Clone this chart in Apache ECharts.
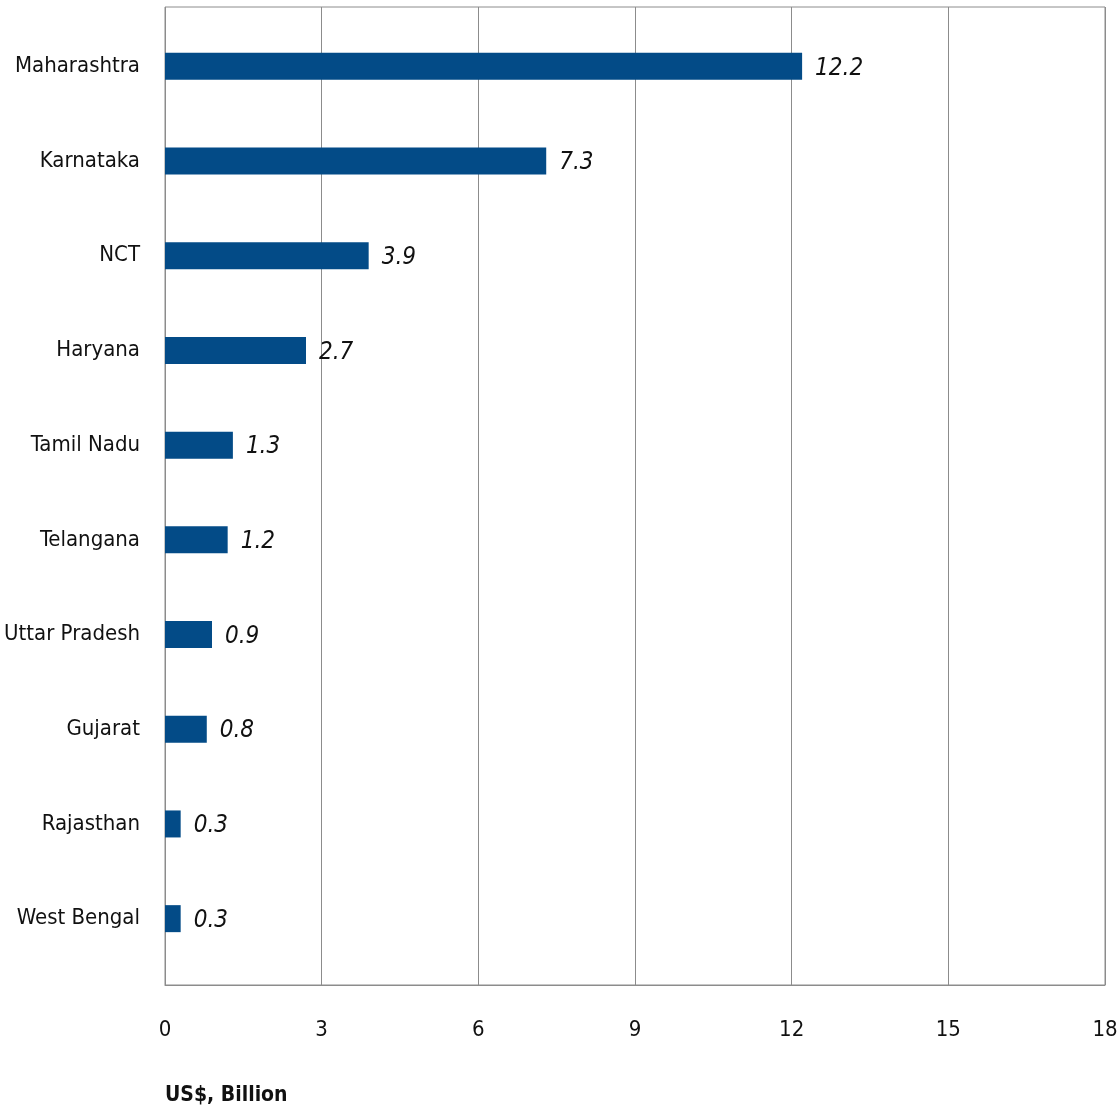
<!DOCTYPE html>
<html>
<head>
<meta charset="utf-8">
<script src="https://cdn.jsdelivr.net/npm/echarts@6/dist/echarts.min.js"></script>
<style>
  html, body { margin: 0; padding: 0; background: #fff; }
  #chart { width: 1119px; height: 1106px; }
</style>
</head>
<body>
<div id="chart"></div>
<script>
  // states and investment (US$ bn)
  const states = ['Maharashtra', 'Karnataka', 'NCT', 'Haryana', 'Tamil Nadu',
    'Telangana', 'Uttar Pradesh', 'Gujarat', 'Rajasthan', 'West Bengal'];
  const values = [12.2, 7.3, 3.9, 2.7, 1.3, 1.2, 0.9, 0.8, 0.3, 0.3];
  const xTicks = [0, 3, 6, 9, 12, 15, 18];

  const font = '"DejaVu Sans Condensed", "Roboto", sans-serif';
  const grey = '#8c8c8c';

  const chart = echarts.init(document.getElementById('chart'));
  chart.setOption({
    animation: false,
    textStyle: { fontFamily: font },
    title: {
      text: 'US$, Billion',
      left: 160,
      top: 1080,
      textStyle: { fontFamily: font, fontSize: 21, fontWeight: 'bold', color: '#111' }
    },
    grid: [
      // outer box + gridlines
      { left: 165, right: 14, top: 7, height: 978, show: true, borderColor: grey, borderWidth: 1, outerBoundsMode: 'none', containLabel: false },
      // bars
      { left: 165, right: 14, top: 19, height: 947, outerBoundsMode: 'none', containLabel: false }
    ],
    xAxis: [
      {
        gridIndex: 0, type: 'value',
        min: xTicks[0], max: xTicks[xTicks.length - 1], interval: 3,
        axisLine: { show: true, lineStyle: { color: grey } },
        axisTick: { show: false },
        splitLine: { show: true, lineStyle: { color: grey, width: 1 } },
        axisLabel: { margin: 34, fontSize: 22, color: '#111', fontFamily: font }
      },
      {
        gridIndex: 1, type: 'value', min: 0, max: 18,
        show: false
      }
    ],
    yAxis: [
      { gridIndex: 0, type: 'value', show: false },
      {
        gridIndex: 1, type: 'category', data: states, inverse: true,
        axisLine: { show: false },
        axisTick: { show: false },
        splitLine: { show: false },
        axisLabel: { margin: 25, fontSize: 22, color: '#111', fontFamily: font, padding: [4, 0, 0, 0] }
      }
    ],
    series: [{
      type: 'bar',
      xAxisIndex: 1,
      yAxisIndex: 1,
      data: values,
      barWidth: 27,
      itemStyle: { color: '#034b87' },
      label: {
        show: true,
        position: 'right',
        distance: 13,
        offset: [0, 2],
        fontSize: 24,
        fontStyle: 'italic',
        color: '#111',
        fontFamily: font
      }
    }]
  });
</script>
</body>
</html>
